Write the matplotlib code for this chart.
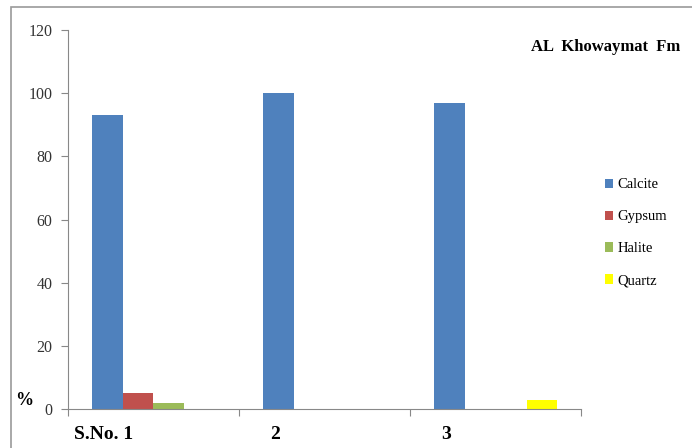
import numpy as np
import matplotlib.pyplot as plt
from matplotlib.patches import Rectangle

samples = ["S.No. 1", "2", "3"]
minerals = ["Calcite", "Gypsum", "Halite", "Quartz"]
calcite = [93, 100, 97]
gypsum = [5, 0, 0]
halite = [2, 0, 0]
quartz = [0, 0, 3]
colors = ["#4f81bd", "#c0504d", "#9bbb59", "#ffff00"]

plt.rcParams['font.family'] = ['Liberation Serif', 'DejaVu Serif']

fig = plt.figure(figsize=(6.92, 4.48), dpi=100)
ax = fig.add_axes([0.098, 0.087, 0.742, 0.846])

# frame around the whole chart area
fig.patches.append(Rectangle((11 / 692, -0.05), 1.0, 1 - 7 / 448 + 0.05,
                             transform=fig.transFigure, fill=False,
                             edgecolor="#9a9a9a", linewidth=1.2))

x = np.arange(len(samples))
w = 0.18
series = [calcite, gypsum, halite, quartz]
for k, (vals, name) in enumerate(zip(series, minerals)):
    ax.bar(x + (k - 1.5) * w, vals, w, color=colors[k], label=name)

ax.set_ylim(0, 120)
ax.set_xlim(-0.5, 2.5)
ax.set_yticks(np.arange(0, 121, 20))
ax.tick_params(axis='y', labelsize=11.5, colors="#888888", labelcolor="#333333",
               length=5, direction='out', pad=6)

# group boundaries carry the tick marks, labels sit under the groups
ax.set_xticks(np.arange(-0.5, 3, 1))
ax.set_xticklabels([])
ax.set_xticks(x - 0.29, minor=True)
ax.set_xticklabels(samples, minor=True, fontsize=14, fontweight='bold')
ax.tick_params(axis='x', which='major', length=5, colors="#888888", direction='out')
ax.tick_params(axis='x', which='minor', length=0, pad=12)

for side in ['top', 'right']:
    ax.spines[side].set_visible(False)
for side in ['left', 'bottom']:
    ax.spines[side].set_color("#888888")

ax.set_ylabel('%', rotation=0, fontsize=13, fontweight='bold')
ax.yaxis.set_label_coords(-0.085, 0.0)

fig.text(0.983, 0.895, "AL  Khowaymat  Fm", ha='right', va='center',
         fontsize=12, fontweight='bold')

ax.legend(loc='center left', bbox_to_anchor=(1.02, 0.465), frameon=False,
          fontsize=10.5, handlelength=0.6, handleheight=0.6, handletextpad=0.3,
          labelspacing=1.3)

fig.savefig("out.png", dpi=100)
